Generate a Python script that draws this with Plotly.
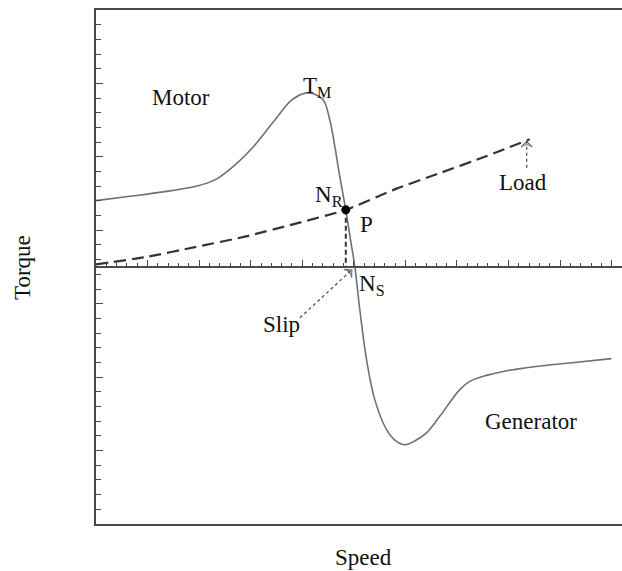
import plotly.graph_objects as go

# Torque-speed characteristic (speed units = minor tick spacing, torque units = minor tick spacing)
torque_speed = [0, 3.10, 6.37, 9.59, 11.53, 13.47, 15.41, 17.34, 18.96, 20.25, 20.90, 22.03, 22.67,
                23.16, 23.58, 24.22, 24.68, 25.10, 25.58, 26.23, 27.03, 28.17, 29.10, 29.94, 30.90,
                32.04, 33.33, 35.27, 36.24, 37.86, 39.47, 42.70, 45.93, 49.97]
torque_vals = [4.52, 4.80, 5.10, 5.48, 5.93, 6.95, 8.31, 10.01, 11.37, 11.83, 11.83, 11.37, 10.01,
               8.20, 6.39, 3.89, 1.85, 0.0, -2.91, -6.31, -9.03, -11.07, -11.85, -12.10, -11.85,
               -11.30, -10.17, -8.35, -7.79, -7.38, -7.11, -6.77, -6.54, -6.24]

load_speed = [0, 4.75, 9.59, 14.44, 19.28, 24.22, 29.07, 33.33, 37.89, 42.05]
load_vals = [0.18, 0.67, 1.35, 2.07, 2.94, 3.89, 5.32, 6.39, 7.56, 8.70]

op_point = (24.22, 3.89)        # P / N_R
sync_speed = 25.10              # N_S

slip_arrow_x = [19.77, 24.81]
slip_arrow_y = [-3.46, -0.19]
load_arrow_x = [41.76, 41.76]
load_arrow_y = [6.75, 8.55]

labels = [
    ("Motor", 8.24, 11.51),
    ("T<sub>M</sub>", 21.45, 12.25),
    ("N<sub>R</sub>", 22.55, 4.85),
    ("P", 26.2, 2.87),
    ("N<sub>S</sub>", 26.8, -1.2),
    ("Slip", 18.02, -3.93),
    ("Load", 41.38, 5.73),
    ("Generator", 42.15, -10.52),
]

X_RANGE = [0, 51]
Y_RANGE = [-17.5, 17.5]

FONT = "Liberation Serif, Times New Roman, serif"
AX = "#4a4a4a"
FS = 23

fig = go.Figure()

fig.add_trace(go.Scatter(x=torque_speed, y=torque_vals, mode="lines",
                         line=dict(color="#707070", width=1.6, shape="spline", smoothing=1.0),
                         hoverinfo="skip", showlegend=False))
fig.add_trace(go.Scatter(x=load_speed, y=load_vals, mode="lines",
                         line=dict(color="#333333", width=2.2, dash="12px,6px", shape="spline", smoothing=0.6),
                         hoverinfo="skip", showlegend=False))
# vertical dashed drop from P to the speed axis
fig.add_trace(go.Scatter(x=[op_point[0], op_point[0]], y=[op_point[1], 0], mode="lines",
                         line=dict(color="#333333", width=2, dash="5px,3px"),
                         hoverinfo="skip", showlegend=False))
# operating point
fig.add_trace(go.Scatter(x=[op_point[0]], y=[op_point[1]], mode="markers",
                         marker=dict(color="black", size=9),
                         hoverinfo="skip", showlegend=False))
# dotted arrows
for ax_, ay_ in [(slip_arrow_x, slip_arrow_y), (load_arrow_x, load_arrow_y)]:
    fig.add_trace(go.Scatter(x=ax_, y=ay_, mode="lines+markers",
                             line=dict(color="#444444", width=1.2, dash="dot"),
                             marker=dict(symbol=["circle", "arrow-wide-open"], size=[0, 8],
                                         angleref="previous", color="#333333",
                                         line=dict(color="#333333", width=1.2)),
                             hoverinfo="skip", showlegend=False))

# invisible trace for the middle speed axis
fig.add_trace(go.Scatter(x=[0], y=[0], xaxis="x2", mode="markers",
                         marker=dict(opacity=0), hoverinfo="skip", showlegend=False))

for text, x, y in labels:
    fig.add_annotation(x=x, y=y, text=text, showarrow=False, xanchor="center", yanchor="middle",
                       font=dict(family=FONT, size=FS, color="#111111"))

fig.add_annotation(xref="paper", yref="paper", x=-0.1407, y=0.5, text="Torque", textangle=-90,
                   xanchor="center", yanchor="middle",
                   showarrow=False, font=dict(family=FONT, size=FS, color="#111111"))
fig.add_annotation(xref="paper", yref="paper", x=0.5095, y=-0.065, text="Speed",
                   xanchor="center", yanchor="middle",
                   showarrow=False, font=dict(family=FONT, size=FS, color="#111111"))

fig.update_layout(
    width=622, height=571,
    margin=dict(l=96, r=0, t=10, b=47),
    paper_bgcolor="white", plot_bgcolor="white",
    xaxis=dict(range=X_RANGE, showgrid=False, zeroline=False, showticklabels=False,
               showline=True, linecolor=AX, linewidth=1.5, mirror=True, ticks=""),
    xaxis2=dict(range=X_RANGE, overlaying="x", anchor="free", position=0.5, side="bottom",
                showgrid=False, zeroline=False, showticklabels=False,
                showline=True, linecolor=AX, linewidth=1.5,
                ticks="inside", tick0=0, dtick=5, ticklen=6, tickcolor=AX, tickwidth=1.2,
                minor=dict(ticks="inside", tick0=0, dtick=1, ticklen=3.5, tickcolor=AX, tickwidth=1.2)),
    yaxis=dict(range=Y_RANGE, showgrid=False, zeroline=False, showticklabels=False,
               showline=True, linecolor=AX, linewidth=1.5,
               ticks="inside", tick0=-17.5, dtick=5, ticklen=7, tickcolor=AX, tickwidth=1.3,
               minor=dict(ticks="inside", tick0=-17.5, dtick=1, ticklen=5.5, tickcolor=AX, tickwidth=1.2)),
)

fig.write_html("out.html", config={"displayModeBar": False},
               post_script="document.body.style.margin='0px';document.body.style.overflow='hidden';")
